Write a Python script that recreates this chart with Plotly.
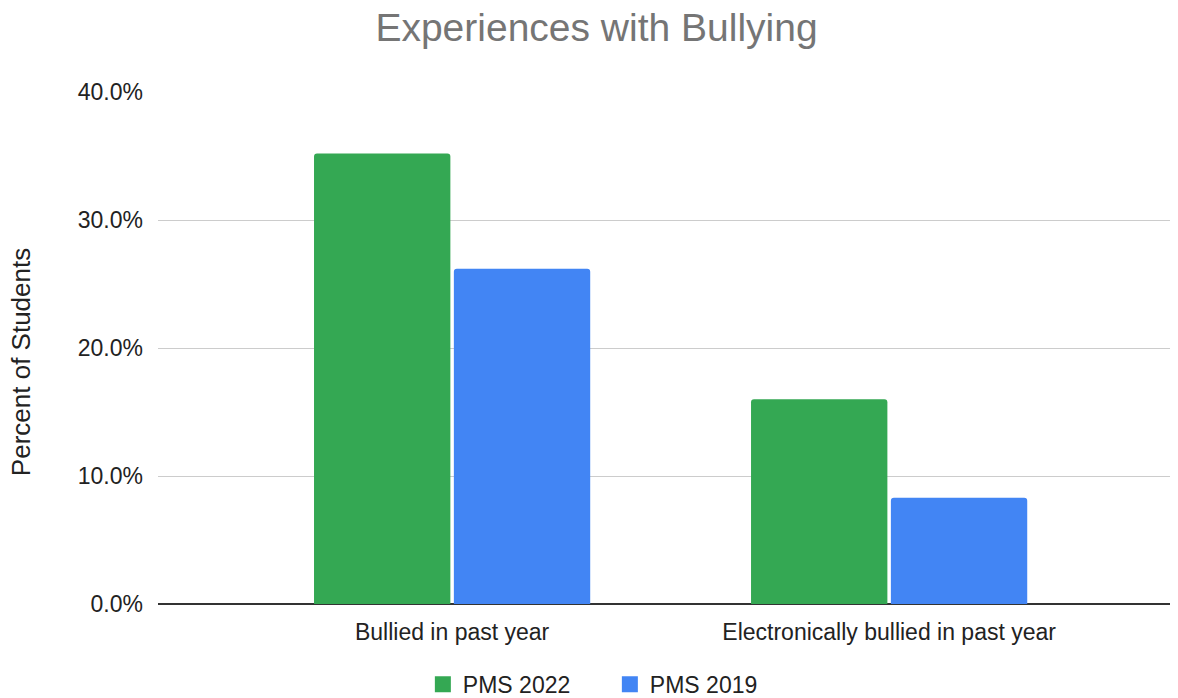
import plotly.graph_objects as go

categories = ["Bullied in past year", "Electronically bullied in past year"]
series_names = ["PMS 2022", "PMS 2019"]
pms_2022 = [0.352, 0.160]
pms_2019 = [0.262, 0.083]
y_ticks = [0.0, 0.1, 0.2, 0.3, 0.4]

colors = ["#34A853", "#4285F4"]
FONT = "Liberation Sans, Arial, sans-serif"

fig = go.Figure()
for name, vals, col in zip(series_names, [pms_2022, pms_2019], colors):
    fig.add_trace(go.Bar(x=categories, y=vals, name=name, marker_color=col,
                         marker_line_width=0, showlegend=False))
# legend entries with larger square swatches
for name, col in zip(series_names, colors):
    fig.add_trace(go.Scatter(x=[categories[0]], y=[None], mode="markers", name=name,
                             marker=dict(symbol="square", size=16, color=col)))

fig.update_layout(
    width=1170, height=690,
    margin=dict(l=150, r=0, t=84, b=94, autoexpand=False),
    paper_bgcolor="white", plot_bgcolor="white",
    barmode="group", bargap=0.36, bargroupgap=0.025, barcornerradius=3,
    font=dict(family=FONT, color="#222222", size=22),
    title=dict(text="Experiences with Bullying", xref="container", x=0.503,
               xanchor="center", yref="container", y=0.9725, yanchor="middle",
               font=dict(family=FONT, size=39, color="#757575")),
    legend=dict(orientation="h", xref="paper", x=0.443, xanchor="center",
                yref="paper", y=-0.115, yanchor="top", entrywidth=142,
                font=dict(size=23, color="#222222")),
    showlegend=True,
)
fig.update_xaxes(type="category", range=[-0.673, 1.661], showgrid=False,
                 showline=False, ticks="", ticklabelstandoff=12, automargin=False,
                 tickangle=0,
                 tickfont=dict(size=23, color="#222222"), zeroline=False)
fig.update_yaxes(range=[0, 0.4], tickvals=y_ticks, tickformat=".1%",
                 showgrid=True, gridcolor="#cccccc", gridwidth=1, automargin=False,
                 zeroline=True, zerolinecolor="#333333", zerolinewidth=2,
                 showline=False, ticks="", ticklabelstandoff=14,
                 tickfont=dict(size=23, color="#222222"))
fig.add_annotation(text="Percent of Students", xref="paper", yref="paper",
                   x=-0.134, y=0.473, xanchor="center", yanchor="middle",
                   textangle=-90, showarrow=False,
                   font=dict(family=FONT, size=26, color="#222222"))

fig.write_html("out.html")
